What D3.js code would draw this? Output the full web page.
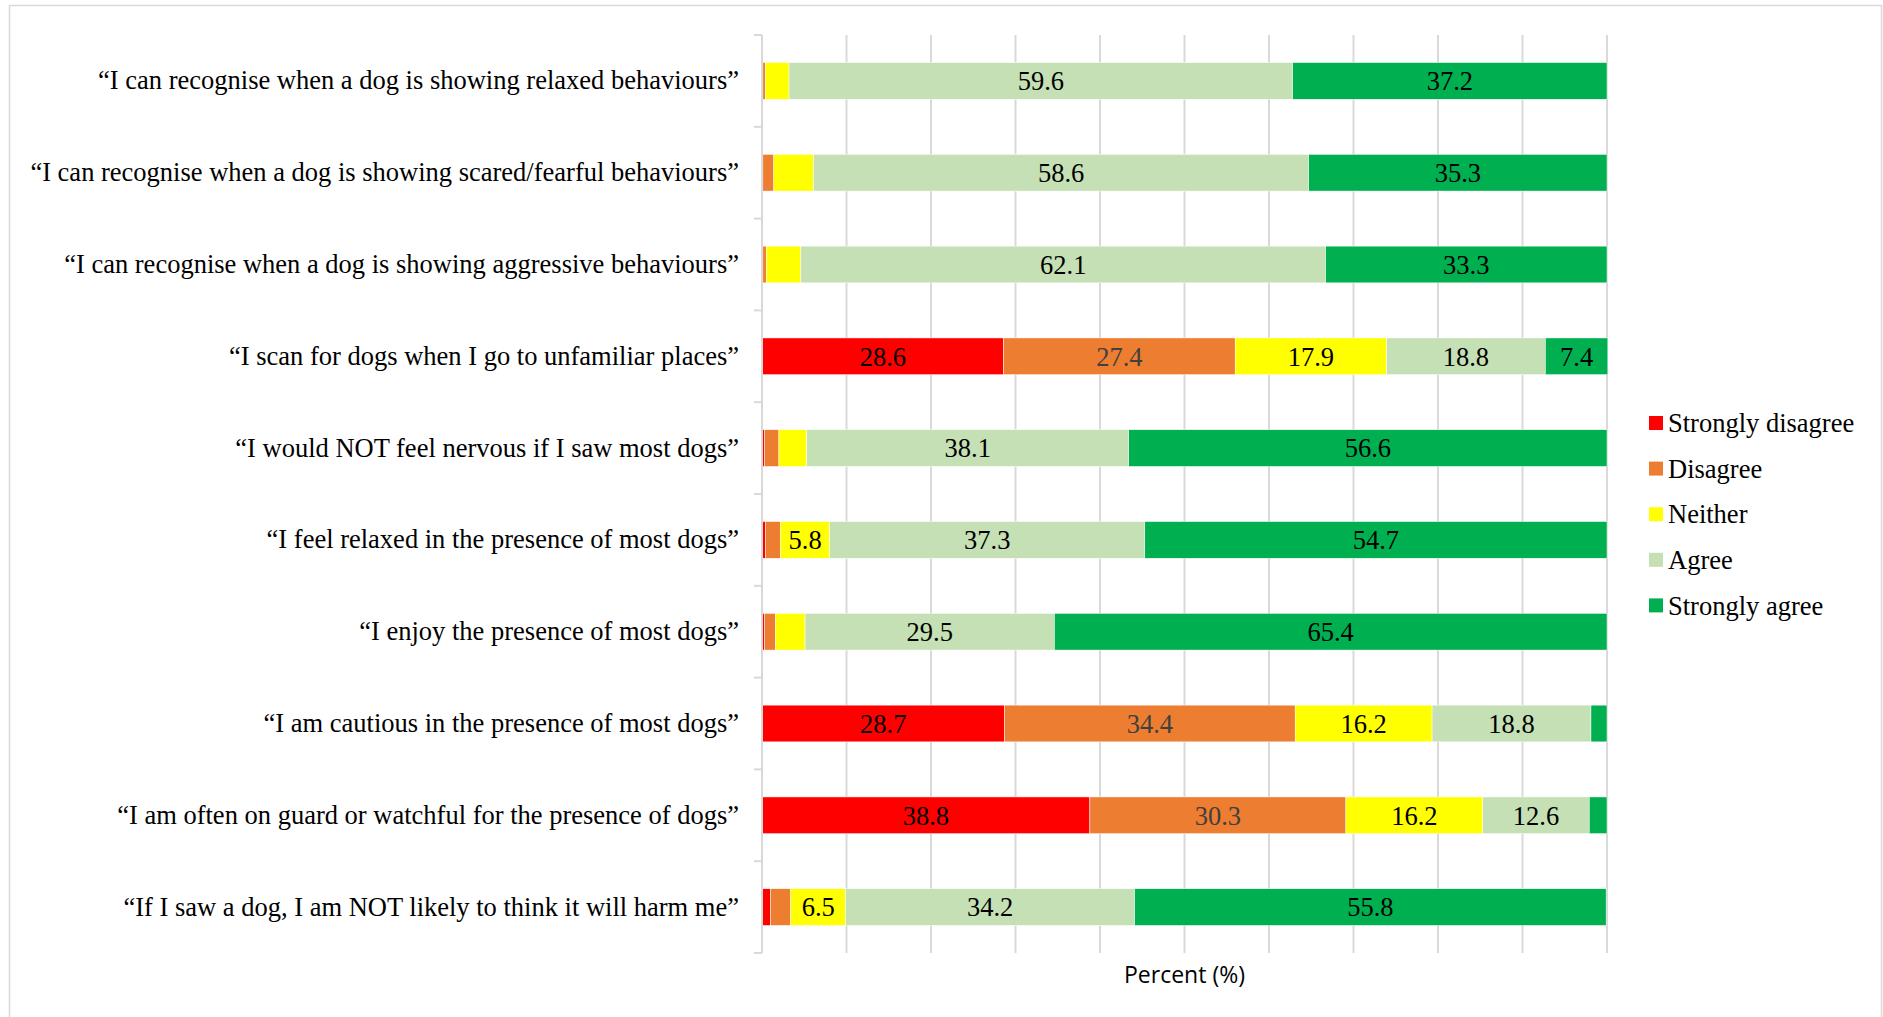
<!DOCTYPE html>
<html>
<head>
<meta charset="utf-8">
<script src="https://cdn.jsdelivr.net/npm/d3@7"></script>
<style>
  html, body { margin: 0; padding: 0; background: #fff; }
  svg { display: block; }
</style>
</head>
<body>
<svg id="chart" width="1883" height="1017"></svg>
<script>
// Survey statements, top to bottom
const categories = [
  "“I can recognise when a dog is showing relaxed behaviours”",
  "“I can recognise when a dog is showing scared/fearful behaviours”",
  "“I can recognise when a dog is showing aggressive behaviours”",
  "“I scan for dogs when I go to unfamiliar places”",
  "“I would NOT feel nervous if I saw most dogs”",
  "“I feel relaxed in the presence of most dogs”",
  "“I enjoy the presence of most dogs”",
  "“I am cautious in the presence of most dogs”",
  "“I am often on guard or watchful for the presence of dogs”",
  "“If I saw a dog, I am NOT likely to think it will harm me”"
];

// Percent of respondents per response level
const stronglyDisagree = [0.1, 0.1, 0.1, 28.6, 0.3, 0.4, 0.3, 28.7, 38.8, 1.0];
const disagree         = [0.3, 1.3, 0.4, 27.4, 1.7, 1.8, 1.3, 34.4, 30.3, 2.4];
const neither          = [2.8, 4.7, 4.1, 17.9, 3.3, 5.8, 3.5, 16.2, 16.2, 6.5];
const agree            = [59.6, 58.6, 62.1, 18.8, 38.1, 37.3, 29.5, 18.8, 12.6, 34.2];
const stronglyAgree    = [37.2, 35.3, 33.3, 7.4, 56.6, 54.7, 65.4, 1.9, 2.1, 55.8];

const seriesNames = ["Strongly disagree", "Disagree", "Neither", "Agree", "Strongly agree"];
const seriesColors = ["#FF0000", "#ED7D31", "#FFFF00", "#C5E0B4", "#00B050"];
const labelColors = ["#000000", "#404040", "#000000", "#000000", "#000000"];
const xTicks = [0, 10, 20, 30, 40, 50, 60, 70, 80, 90, 100];

const seriesValues = [stronglyDisagree, disagree, neither, agree, stronglyAgree];
const rows = categories.map((c, i) => {
  const r = { category: c };
  seriesNames.forEach((s, k) => { r[s] = seriesValues[k][i]; });
  return r;
});

const svg = d3.select("#chart");
const W = 1883, H = 1017;

// Outer frame
svg.append("rect")
  .attr("x", 9.5).attr("y", 5.5)
  .attr("width", W - 11).attr("height", H + 10)
  .attr("fill", "none").attr("stroke", "#d9d9d9").attr("stroke-width", 1.5);

const plot = { left: 762, right: 1607, top: 35, bottom: 953 };

const x = d3.scaleLinear().domain([0, 100]).range([plot.left, plot.right]);
const y = d3.scaleBand().domain(categories)
  .range([plot.top, plot.bottom])
  .paddingInner(0.6).paddingOuter(0.3);

// Vertical gridlines
svg.append("g")
  .selectAll("line")
  .data(xTicks.slice(1))
  .join("line")
  .attr("x1", d => x(d)).attr("x2", d => x(d))
  .attr("y1", plot.top).attr("y2", plot.bottom)
  .attr("stroke", "#d9d9d9").attr("stroke-width", 2);

// Stacked segments
const stack = d3.stack().keys(seriesNames);
const layers = stack(rows);

const serif = "'Liberation Serif', 'Times New Roman', serif";
const fs = 26.5;

const g = svg.append("g");
layers.forEach((layer, k) => {
  const lg = g.append("g");
  lg.selectAll("rect")
    .data(layer)
    .join("rect")
    .attr("x", d => x(d[0]))
    .attr("y", d => y(d.data.category))
    .attr("width", d => Math.max(0, x(d[1]) - x(d[0])))
    .attr("height", y.bandwidth())
    .attr("fill", seriesColors[k])
    .attr("stroke", "#ffffff").attr("stroke-width", 0.5);

  lg.selectAll("text")
    .data(layer.filter(d => d.data[layer.key] >= 5))
    .join("text")
    .attr("x", d => (x(d[0]) + x(d[1])) / 2)
    .attr("y", d => y(d.data.category) + y.bandwidth() / 2)
    .attr("dy", "0.35em")
    .attr("text-anchor", "middle")
    .attr("font-family", serif)
    .attr("font-size", fs)
    .attr("fill", labelColors[k])
    .text(d => d.data[layer.key].toFixed(1));
});

// Category axis
const yAxis = d3.axisLeft(y).tickSize(0).tickPadding(23);
const ya = svg.append("g").attr("transform", `translate(${plot.left},0)`).call(yAxis);
ya.select(".domain").remove();
ya.selectAll("text")
  .attr("font-family", serif)
  .attr("font-size", fs)
  .attr("fill", "#000");

// Axis line with tick marks on band boundaries
svg.append("line")
  .attr("x1", plot.left).attr("x2", plot.left)
  .attr("y1", plot.top).attr("y2", plot.bottom)
  .attr("stroke", "#d9d9d9").attr("stroke-width", 2);
const boundaries = d3.range(categories.length + 1).map(i => plot.top + i * y.step());
svg.append("g").selectAll("line")
  .data(boundaries)
  .join("line")
  .attr("x1", plot.left - 8).attr("x2", plot.left)
  .attr("y1", d => d).attr("y2", d => d)
  .attr("stroke", "#d9d9d9").attr("stroke-width", 2);

// Axis title
svg.append("text")
  .attr("x", (plot.left + plot.right) / 2)
  .attr("y", 983)
  .attr("text-anchor", "middle")
  .attr("font-family", "'Open Sans', 'Liberation Sans', sans-serif")
  .attr("font-size", 23)
  .attr("fill", "#000")
  .text("Percent (%)");

// Legend
const legend = svg.append("g").attr("transform", "translate(1649, 423)");
seriesNames.forEach((s, k) => {
  const row = legend.append("g").attr("transform", `translate(0, ${k * 45.6})`);
  row.append("rect")
    .attr("x", 0).attr("y", -7).attr("width", 14).attr("height", 14)
    .attr("fill", seriesColors[k]);
  row.append("text")
    .attr("x", 19).attr("y", 0).attr("dy", "0.35em")
    .attr("font-family", serif)
    .attr("font-size", fs)
    .attr("fill", "#000")
    .text(s);
});
</script>
</body>
</html>
